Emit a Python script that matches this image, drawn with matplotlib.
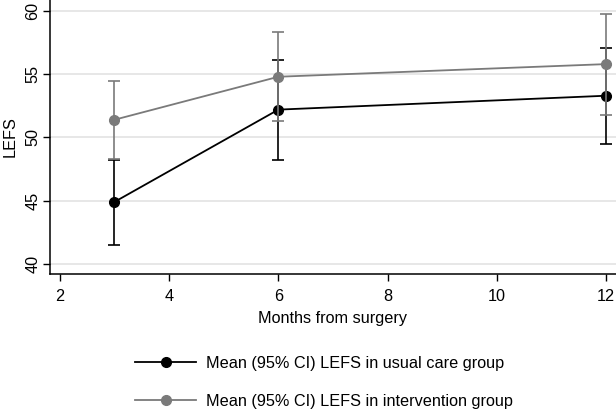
import numpy as np
import matplotlib.pyplot as plt
from matplotlib.lines import Line2D

plt.rcParams['font.family'] = ['Liberation Sans', 'DejaVu Sans']

months = [3, 6, 12]
usual_mean = [44.9, 52.2, 53.3]
usual_lo = [41.5, 48.2, 49.5]
usual_hi = [48.2, 56.1, 57.05]
interv_mean = [51.4, 54.8, 55.8]
interv_lo = [48.3, 51.3, 51.75]
interv_hi = [54.5, 58.3, 59.8]

black = '#000000'
grey = '#7a7a7a'
fs = 11.7

fig = plt.figure(figsize=(6.16, 4.18), dpi=100)
ax = fig.add_axes([50/616, 1 - 274/418, 1 - 50/616, 274/418])

um = np.array(usual_mean)
im = np.array(interv_mean)
ax.errorbar(months, um, yerr=[um - np.array(usual_lo), np.array(usual_hi) - um],
            color=black, lw=1.3, marker='o', ms=7, capsize=4, capthick=1.2, elinewidth=1.2, zorder=3)
ax.errorbar(months, im, yerr=[im - np.array(interv_lo), np.array(interv_hi) - im],
            color=grey, lw=1.3, marker='o', ms=7, capsize=4, capthick=1.2, elinewidth=1.2, zorder=4)

ax.set_xlim(1.82, 12.18)
ax.set_ylim(39.2, 60.87)
ax.set_xticks([2, 4, 6, 8, 10, 12])
ax.set_yticks([40, 45, 50, 55, 60])
ax.yaxis.grid(True, color='#e3e3e3', lw=1.2)
ax.set_axisbelow(True)
for s in ['top', 'right']:
    ax.spines[s].set_visible(False)
ax.spines['left'].set_linewidth(1.1)
ax.spines['bottom'].set_linewidth(1.1)
ax.tick_params(labelsize=fs, length=5, width=1)
ax.tick_params(axis='x', pad=6)
ax.tick_params(axis='y', pad=2)
for lab in ax.get_yticklabels():
    lab.set_rotation(90)
    lab.set_va('center')
ax.set_xlabel('Months from surgery', fontsize=fs, labelpad=5)
ax.set_ylabel('LEFS', fontsize=fs, labelpad=5.5)

handles = [Line2D([], [], color=black, marker='o', ms=7, lw=1.3),
           Line2D([], [], color=grey, marker='o', ms=7, lw=1.3)]
fig.legend(handles, ['Mean (95% CI) LEFS in usual care group',
                     'Mean (95% CI) LEFS in intervention group'],
           loc='upper left', bbox_to_anchor=(120/616, 1 - 341/418), frameon=False,
           fontsize=fs, handlelength=3.8, labelspacing=1.43, handletextpad=0.6)

fig.savefig('out.png', dpi=100)
